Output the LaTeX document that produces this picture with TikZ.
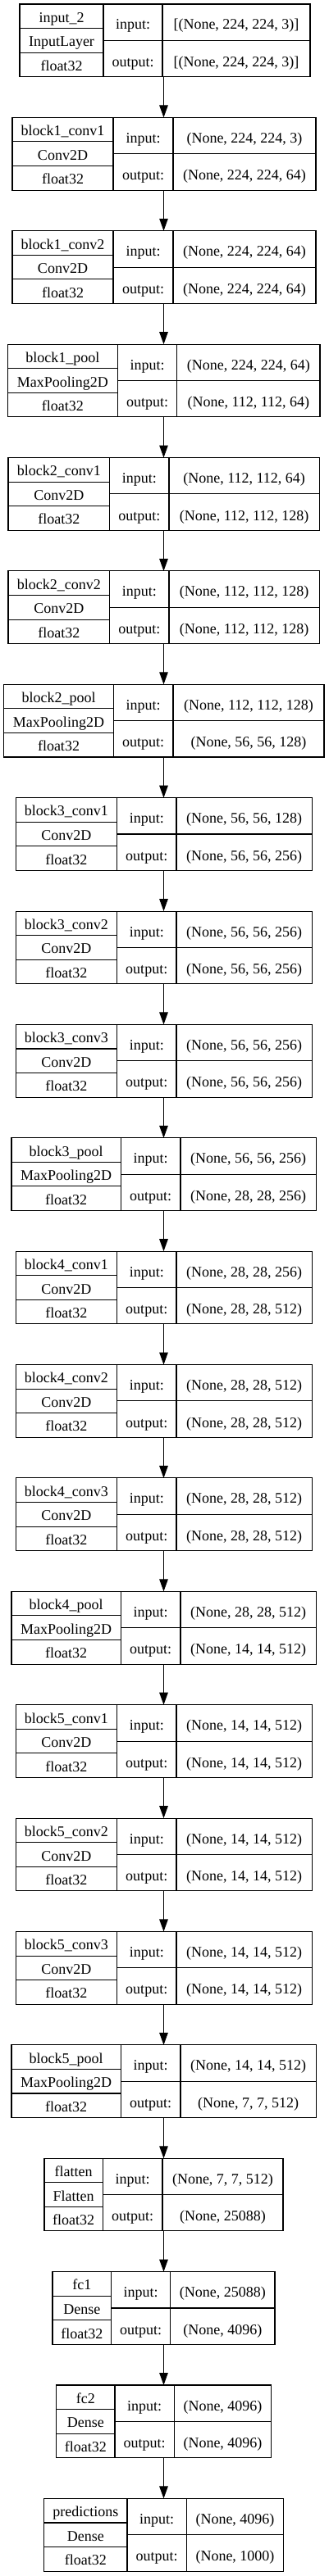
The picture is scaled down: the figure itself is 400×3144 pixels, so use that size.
\documentclass[tikz,border=0pt]{standalone}
\usepackage{fontspec}
\setmainfont{Liberation Serif}
\usetikzlibrary{arrows.meta}
\tikzset{
  cell/.style={draw=black, line width=0.8pt},
  boxnode/.style={cell, anchor=north west, inner sep=0pt, outer sep=0pt},
  lbl/.style={anchor=base, inner sep=0pt, font=\fontsize{13.5pt}{16pt}\selectfont},
  arr/.style={draw=black, line width=0.8pt, -{Triangle[length=11.25pt,width=7.9pt]}},
}
% #1 index, #2 name, #3 type, #4 input, #5 output, #6..#9 x of left edge, divider1, divider2, right edge
\newcommand\mylayer[9]{%
  \pgfmathsetmacro\ty{5+138.38*#1}%
  \pgfmathsetmacro\tb{\ty+88.7}%
  \pgfmathsetmacro\tm{\ty+44.35}%
  \pgfmathsetmacro\tl{\ty+29.57}%
  \pgfmathsetmacro\tll{\ty+59.13}%
  \node[boxnode, minimum width={(#9-#6)*0.75pt}, minimum height={88.7*0.75pt}] (b#1) at (#6,\ty) {};
  \draw[cell] (#7,\ty) -- (#7,\tb) (#8,\ty) -- (#8,\tb);
  \draw[cell] (#6,\tl) -- (#7,\tl) (#6,\tll) -- (#7,\tll) (#7,\tm) -- (#9,\tm);
  \node[lbl] (n#1) at ({(#6+#7)/2},{\ty+22.3}) {#2};
  \node[lbl] (t#1) at ({(#6+#7)/2},{\ty+51.9}) {#3};
  \node[lbl] (d#1) at ({(#6+#7)/2},{\ty+81.4}) {float32};
  \node[lbl] (il#1) at ({(#7+#8)/2},{\ty+31}) {input:};
  \node[lbl] (ol#1) at ({(#7+#8)/2},{\ty+76.5}) {output:};
  \node[lbl] (iv#1) at ({(#8+#9)/2},{\ty+31}) {#4};
  \node[lbl] (ov#1) at ({(#8+#9)/2},{\ty+76.5}) {#5};
}
\begin{document}
\begin{tikzpicture}[x=0.75pt, y=-0.75pt]
\fill[white] (0,0) rectangle (400,3144);
\useasboundingbox (0,0) rectangle (400,3144);
\coordinate (ax) at (199.5,0);
\mylayer{0}{input\_2}{InputLayer}{[(None, 224, 224, 3)]}{[(None, 224, 224, 3)]}{24}{126}{198}{378}
\mylayer{1}{block1\_conv1}{Conv2D}{(None, 224, 224, 3)}{(None, 224, 224, 64)}{15}{138}{211}{385}
\mylayer{2}{block1\_conv2}{Conv2D}{(None, 224, 224, 64)}{(None, 224, 224, 64)}{15}{138}{211}{385}
\mylayer{3}{block1\_pool}{MaxPooling2D}{(None, 224, 224, 64)}{(None, 112, 112, 64)}{9.3}{143.3}{215.7}{390}
\mylayer{4}{block2\_conv1}{Conv2D}{(None, 112, 112, 64)}{(None, 112, 112, 128)}{10}{133.6}{206}{389.3}
\mylayer{5}{block2\_conv2}{Conv2D}{(None, 112, 112, 128)}{(None, 112, 112, 128)}{10}{133.6}{206}{389.3}
\mylayer{6}{block2\_pool}{MaxPooling2D}{(None, 112, 112, 128)}{(None, 56, 56, 128)}{4.7}{138.3}{211}{395}
\mylayer{7}{block3\_conv1}{Conv2D}{(None, 56, 56, 128)}{(None, 56, 56, 256)}{19.2}{142.5}{215}{380.3}
\mylayer{8}{block3\_conv2}{Conv2D}{(None, 56, 56, 256)}{(None, 56, 56, 256)}{19.2}{142.5}{215}{380.3}
\mylayer{9}{block3\_conv3}{Conv2D}{(None, 56, 56, 256)}{(None, 56, 56, 256)}{19.2}{142.5}{215}{380.3}
\mylayer{10}{block3\_pool}{MaxPooling2D}{(None, 56, 56, 256)}{(None, 28, 28, 256)}{14}{147.3}{220}{385.3}
\mylayer{11}{block4\_conv1}{Conv2D}{(None, 28, 28, 256)}{(None, 28, 28, 512)}{19.2}{142.5}{215}{380.3}
\mylayer{12}{block4\_conv2}{Conv2D}{(None, 28, 28, 512)}{(None, 28, 28, 512)}{19.2}{142.5}{215}{380.3}
\mylayer{13}{block4\_conv3}{Conv2D}{(None, 28, 28, 512)}{(None, 28, 28, 512)}{19.2}{142.5}{215}{380.3}
\mylayer{14}{block4\_pool}{MaxPooling2D}{(None, 28, 28, 512)}{(None, 14, 14, 512)}{14}{147.3}{220}{385.3}
\mylayer{15}{block5\_conv1}{Conv2D}{(None, 14, 14, 512)}{(None, 14, 14, 512)}{19.2}{142.5}{215}{380.3}
\mylayer{16}{block5\_conv2}{Conv2D}{(None, 14, 14, 512)}{(None, 14, 14, 512)}{19.2}{142.5}{215}{380.3}
\mylayer{17}{block5\_conv3}{Conv2D}{(None, 14, 14, 512)}{(None, 14, 14, 512)}{19.2}{142.5}{215}{380.3}
\mylayer{18}{block5\_pool}{MaxPooling2D}{(None, 14, 14, 512)}{(None, 7, 7, 512)}{14}{147.3}{220}{385.3}
\mylayer{19}{flatten}{Flatten}{(None, 7, 7, 512)}{(None, 25088)}{54}{125.3}{198}{345}
\mylayer{20}{fc1}{Dense}{(None, 25088)}{(None, 4096)}{64}{135.7}{207.7}{335}
\mylayer{21}{fc2}{Dense}{(None, 4096)}{(None, 4096)}{68.7}{140}{212.3}{330.7}
\mylayer{22}{predictions}{Dense}{(None, 4096)}{(None, 1000)}{53.7}{155}{227.3}{345.7}
\foreach \i [evaluate=\i as \j using int(\i+1)] in {0,...,21} {
  \draw[arr] (b\i.south -| ax) -- (b\j.north -| ax);
}
\end{tikzpicture}
\end{document}
